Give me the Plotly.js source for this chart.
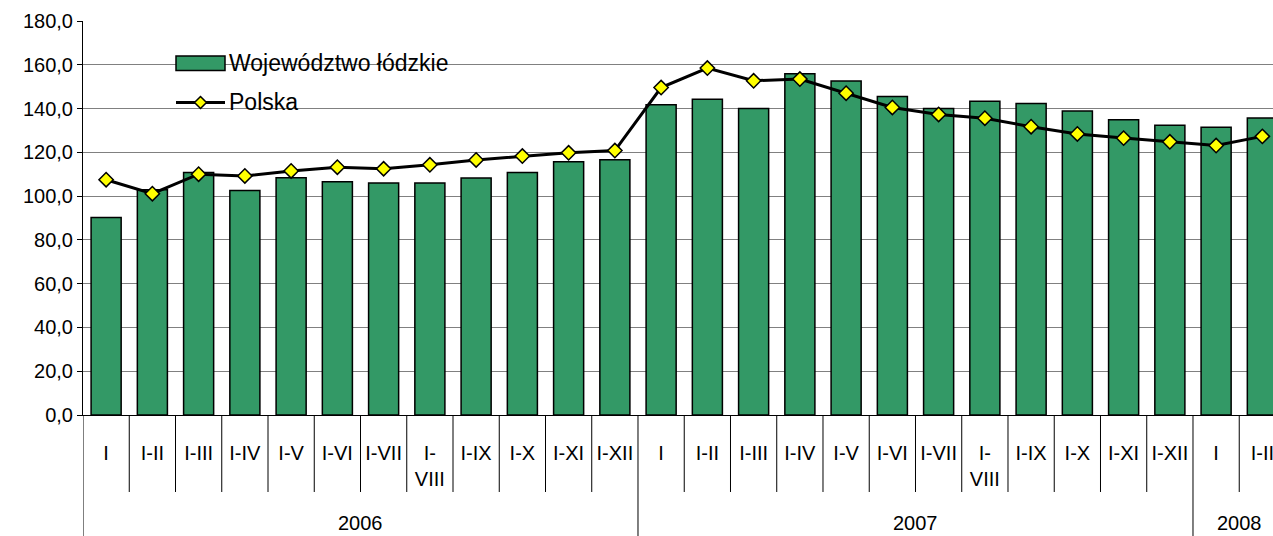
<!DOCTYPE html>
<html>
<head>
<meta charset="utf-8">
<script src="https://cdn.plot.ly/plotly-3.0.1.min.js"></script>
<style>html,body{margin:0;padding:0;background:#fff;}#chart{width:1273px;height:536px;}</style>
</head>
<body>
<div id="chart"></div>
<script>
// ---- data ----
const categories = ["I","I-II","I-III","I-IV","I-V","I-VI","I-VII","I-<br>VIII","I-IX","I-X","I-XI","I-XII",
                    "I","I-II","I-III","I-IV","I-V","I-VI","I-VII","I-<br>VIII","I-IX","I-X","I-XI","I-XII",
                    "I","I-II"];
const years = ["2006","2006","2006","2006","2006","2006","2006","2006","2006","2006","2006","2006",
               "2007","2007","2007","2007","2007","2007","2007","2007","2007","2007","2007","2007",
               "2008","2008"];
const lodzkie = [90.2,102.9,110.8,102.6,108.4,106.6,106.0,106.0,108.3,110.8,115.7,116.6,
                 141.7,144.2,140.0,155.9,152.6,145.5,140.0,143.3,142.3,138.9,134.9,132.4,
                 131.5,135.7];
const polska = [107.5,101.1,110.0,109.2,111.5,113.2,112.5,114.3,116.5,118.3,119.8,120.8,
                149.6,158.5,152.7,153.5,147.0,140.5,137.3,135.6,131.7,128.4,126.5,124.8,
                123.1,127.3];
const seriesNames = ["Województwo łódzkie", "Polska"];

const idx = categories.map((_, i) => i);
const FONT = "Liberation Sans, Arial, sans-serif";

const traces = [
  {type: "bar", x: idx, y: lodzkie, name: seriesNames[0], width: 0.65,
   marker: {color: "#339966", line: {color: "#000000", width: 1.5}}, showlegend: false},
  {type: "scatter", mode: "lines+markers", x: idx, y: polska, name: seriesNames[1],
   line: {color: "#000000", width: 3},
   marker: {symbol: "diamond", size: 11, color: "#FFFF00", line: {color: "#000000", width: 1.5}},
   showlegend: false}
];

// separators and year labels
const shapes = [];
const annotations = [];
const SHORT = -0.1954, LONG = -0.31;
for (let i = 0; i <= categories.length; i++) {
  const full = (i === 0 || i === categories.length || years[i] !== years[i - 1]);
  shapes.push({type: "line", xref: "x", yref: "paper", x0: i - 0.5, x1: i - 0.5,
               y0: 0, y1: full ? LONG : SHORT, line: {color: "#000000", width: 1}});
}
let start = 0;
for (let i = 1; i <= years.length; i++) {
  if (i === years.length || years[i] !== years[start]) {
    annotations.push({xref: "x", yref: "paper", x: (start + i - 1) / 2, y: -0.274,
                      text: years[start], showarrow: false, xanchor: "center", yanchor: "middle",
                      font: {family: FONT, size: 20, color: "#000"}});
    start = i;
  }
}

// custom legend
const PL = 83, PW = 1190, PB = 415, PH = 394;
const px = v => (v - PL) / PW, py = v => (PB - v) / PH;
shapes.push({type: "rect", xref: "paper", yref: "paper", x0: px(176), x1: px(225), y0: py(70.5), y1: py(56),
             fillcolor: "#339966", line: {color: "#000", width: 1.5}});
shapes.push({type: "line", xref: "paper", yref: "paper", x0: px(176), x1: px(225), y0: py(102.5), y1: py(102.5),
             line: {color: "#000", width: 3}});
shapes.push({type: "path", xref: "paper", yref: "paper", xsizemode: "pixel", ysizemode: "pixel",
             xanchor: px(200.5), yanchor: py(102.5), path: "M0,6 L6,0 L0,-6 L-6,0 Z",
             fillcolor: "#FFFF00", line: {color: "#000", width: 1.5}});
annotations.push({xref: "paper", yref: "paper", x: px(227), y: py(63), text: seriesNames[0], showarrow: false,
                  xanchor: "left", yanchor: "middle", font: {family: FONT, size: 23, color: "#000"}});
annotations.push({xref: "paper", yref: "paper", x: px(227), y: py(102), text: seriesNames[1], showarrow: false,
                  xanchor: "left", yanchor: "middle", font: {family: FONT, size: 23, color: "#000"}});

const layout = {
  width: 1273, height: 536,
  margin: {l: 83, r: 0, t: 21, b: 121, pad: 0},
  paper_bgcolor: "#ffffff", plot_bgcolor: "#ffffff",
  separators: ", ",
  showlegend: false,
  font: {family: FONT, size: 20, color: "#000"},
  xaxis: {
    range: [-0.5, 25.23], tickmode: "array", tickvals: idx, ticktext: categories,
    ticks: "", ticklabelstandoff: 20, ticklabeloverflow: "allow", showgrid: false, zeroline: false,
    showline: true, linecolor: "#000", linewidth: 1,
    tickfont: {family: FONT, size: 20, color: "#000"}, fixedrange: true
  },
  yaxis: {
    range: [0, 180], dtick: 20, tick0: 0, tickformat: ".1f",
    ticks: "outside", ticklen: 5, tickcolor: "#000", tickwidth: 1,
    showgrid: true, gridcolor: "#808080", gridwidth: 1, zeroline: false,
    showline: true, linecolor: "#000", linewidth: 1,
    tickfont: {family: FONT, size: 20, color: "#000"}, fixedrange: true
  },
  shapes: shapes,
  annotations: annotations,
  bargap: 0.35
};

Plotly.newPlot("chart", traces, layout, {staticPlot: true, displayModeBar: false});
</script>
</body>
</html>
